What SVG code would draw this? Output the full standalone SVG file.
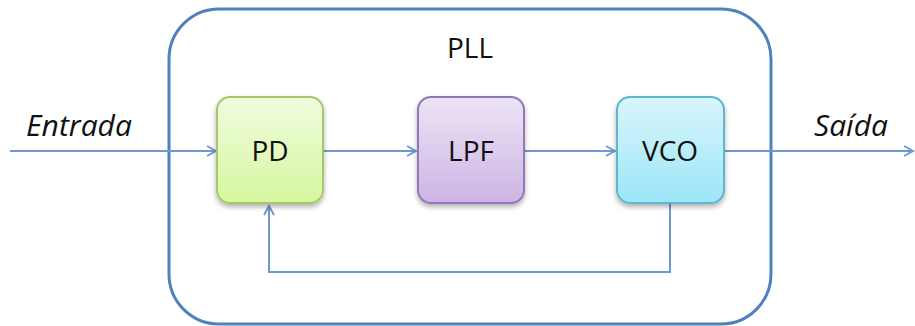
<svg xmlns="http://www.w3.org/2000/svg" width="915" height="326" viewBox="0 0 915 326">
<style>
.lbl{font-family:"Open Sans","Liberation Sans",sans-serif;font-size:28px;fill:#111;text-anchor:middle}
.io{font-family:"Open Sans","Liberation Sans",sans-serif;font-size:30px;font-style:italic;fill:#111;text-anchor:middle}
.conn{fill:none;stroke:#6f98cf;stroke-width:2}
</style>
<defs>
<linearGradient id="gG" x1="0" y1="0" x2="0" y2="1"><stop offset="0" stop-color="#f0fce0"/><stop offset="1" stop-color="#d6f79d"/></linearGradient>
<linearGradient id="gP" x1="0" y1="0" x2="0" y2="1"><stop offset="0" stop-color="#ece5f6"/><stop offset="1" stop-color="#ccb4e4"/></linearGradient>
<linearGradient id="gB" x1="0" y1="0" x2="0" y2="1"><stop offset="0" stop-color="#d9f6fd"/><stop offset="1" stop-color="#9ce6f8"/></linearGradient>
<filter id="sh" x="-20%" y="-20%" width="140%" height="150%"><feDropShadow dx="0" dy="3" stdDeviation="2.5" flood-color="#000" flood-opacity="0.3"/></filter>
<marker id="arr" markerWidth="12" markerHeight="12" refX="10" refY="6" orient="auto" markerUnits="userSpaceOnUse"><path d="M1,1 L10,6 L1,11" fill="none" stroke="#6f98cf" stroke-width="2"/></marker>
</defs>
<g id="pll">
<rect x="169" y="9" width="602" height="315" rx="50" ry="50" fill="#fff" stroke="#4f81bd" stroke-width="3"/>
<text class="lbl" x="470" y="58">PLL</text>
</g>
<g id="connectors">
<line class="conn" x1="10" y1="151" x2="216" y2="151" marker-end="url(#arr)"/>
<line class="conn" x1="323" y1="151" x2="416" y2="151" marker-end="url(#arr)"/>
<line class="conn" x1="524" y1="151" x2="615" y2="151" marker-end="url(#arr)"/>
<line class="conn" x1="724" y1="151" x2="913" y2="151" marker-end="url(#arr)"/>
<polyline class="conn" points="670,204 670,272 269,272 269,206" marker-end="url(#arr)"/>
</g>
<g id="entrada"><text class="io" x="79" y="136">Entrada</text></g>
<g id="saida"><text class="io" x="851" y="136">Saída</text></g>
<g id="pd">
<rect x="217" y="97" width="106" height="106" rx="13" fill="url(#gG)" stroke="#a8c76d" stroke-width="2" filter="url(#sh)"/>
<text class="lbl" x="270" y="161">PD</text>
</g>
<g id="lpf">
<rect x="418" y="97" width="106" height="106" rx="13" fill="url(#gP)" stroke="#9478b6" stroke-width="2" filter="url(#sh)"/>
<text class="lbl" x="471" y="161">LPF</text>
</g>
<g id="vco">
<rect x="617" y="97" width="107" height="106" rx="13" fill="url(#gB)" stroke="#5fb7cf" stroke-width="2" filter="url(#sh)"/>
<text class="lbl" x="670" y="161">VCO</text>
</g>
</svg>
